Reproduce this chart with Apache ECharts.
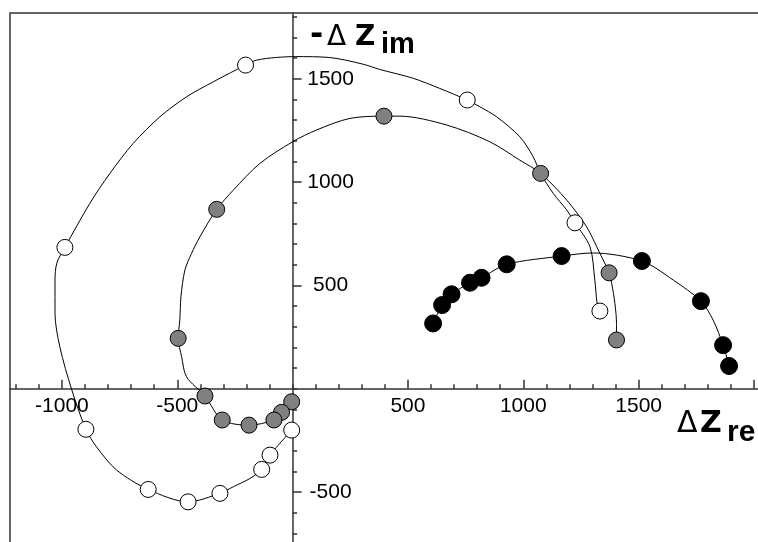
<!DOCTYPE html>
<html><head><meta charset="utf-8">
<script src="https://cdn.jsdelivr.net/npm/echarts@6/dist/echarts.min.js"></script>
<style>html,body{margin:0;padding:0;background:#fff}#c{width:758px;height:542px}</style>
</head><body><div id="c"></div>
<script>
// Markers (ΔZre, -ΔZim)
const openMarkers = [[-4,-200],[-98,-321],[-134,-390],[-315,-506],[-453,-547],[-626,-487],[-896,-196],[-987,684],[-204,1566],[757,1397],[1224,803],[1332,376]];
const grayMarkers = [[-4,-63],[-48,-114],[-81,-151],[-189,-176],[-305,-151],[-380,-35],[-496,244],[-329,868],[396,1319],[1075,1042],[1372,561],[1404,236]];
const blackMarkers = [[609,316],[648,405],[689,457],[769,513],[819,537],[928,602],[1166,642],[1514,618],[1770,424],[1866,211],[1892,110]];

// Fitted curves
const openCurve = [[-4,-200],[-98,-321],[-134,-390],[-185,-434],[-257,-474],[-315,-506],[-453,-547],[-626,-487],[-763,-393],[-850,-281],[-896,-196],[-957,-6],[-1009,203],[-1030,366],[-1030,526],[-1022,608],[-987,684],[-879,897],[-792,1042],[-691,1187],[-575,1316],[-459,1413],[-344,1485],[-204,1566],[-156,1590],[-69,1603],[14,1607],[157,1603],[303,1571],[378,1545],[523,1502],[638,1453],[757,1397],[812,1364],[884,1316],[985,1219],[1043,1122],[1075,1042],[1130,945],[1188,865],[1224,803],[1289,687],[1310,526],[1320,413],[1332,376]];
const grayCurve = [[-4,-63],[-48,-114],[-81,-151],[-189,-176],[-305,-151],[-380,-35],[-460,58],[-481,155],[-496,244],[-489,332],[-484,445],[-467,574],[-438,655],[-402,735],[-329,868],[-257,961],[-142,1090],[0,1195],[104,1252],[248,1308],[396,1319],[465,1319],[668,1276],[855,1195],[985,1106],[1075,1042],[1188,913],[1274,784],[1332,655],[1372,561],[1383,510],[1397,413],[1404,316],[1404,236]];
const blackCurve = [[609,316],[648,405],[689,457],[769,513],[819,537],[928,602],[1166,642],[1300,657],[1514,618],[1650,526],[1770,424],[1823,332],[1866,211],[1892,110]];

// Ticks and labels
const xMinorTicks = [-1200,-1100,-1000,-900,-800,-700,-600,-500,-400,-300,-200,-100,0,100,200,300,400,500,600,700,800,900,1000,1100,1200,1300,1400,1500,1600,1700,1800,1900,2000];
const xMajorTicks = [-1000,-500,500,1000,1500,2000];
const xTickLabels = [-1000,-500,500,1000,1500];
const yMinorTicks = [-700,-600,-500,-400,-300,-200,-100,0,100,200,300,400,500,600,700,800,900,1000,1100,1200,1300,1400,1500,1600,1700,1800];
const yMajorTicks = [-500,500,1000,1500];
const yTickLabels = [-500,500,1000,1500];

const X_MIN = -1225, X_MAX = 2026, Y_MIN = -751, Y_MAX = 1818;
const FONT = '"Liberation Sans", Arial, sans-serif';
const DJ = '"DejaVu Sans", sans-serif';
const AX = '#333';

const W = 758, H = 542;
const G = {left: 10, top: 13, right: -2, bottom: -2};
const GW = W - G.left - G.right, GH = H - G.top - G.bottom;
// pixel position of the zero lines, used to place the major-tick axes on them
const X0 = G.left + (0 - X_MIN) / (X_MAX - X_MIN) * GW;
const Y0 = G.top + (Y_MAX - 0) / (Y_MAX - Y_MIN) * GH;

const chart = echarts.init(document.getElementById('c'), null, {renderer: 'canvas'});

function xAx(major) {
  return {
    type: 'value', gridIndex: major ? 1 : 0, min: X_MIN, max: X_MAX, position: 'bottom',
    offset: major ? (Y0 - (G.top + GH)) : 0,
    axisLine: {show: !major, onZero: !major, lineStyle: {color: AX, width: 1.5}},
    axisTick: {show: true, inside: true, length: major ? 9 : 4.5, customValues: major ? xMajorTicks : xMinorTicks, lineStyle: {color: AX, width: 1.5}},
    axisLabel: major ? {show: true, hideOverlap: false, customValues: xTickLabels, formatter: v => String(v), fontSize: 21, fontFamily: FONT, color: '#000', margin: 7} : {show: false},
    splitLine: {show: false}
  };
}
function yAx(major) {
  return {
    type: 'value', gridIndex: major ? 1 : 0, min: Y_MIN, max: Y_MAX, position: 'left',
    offset: major ? (G.left - X0) : 0,
    axisLine: {show: !major, onZero: !major, lineStyle: {color: AX, width: 1.5}},
    axisTick: {show: true, inside: true, length: major ? 9 : 4.5, customValues: major ? yMajorTicks : yMinorTicks, lineStyle: {color: AX, width: 1.5}},
    axisLabel: major ? {show: true, hideOverlap: false, inside: true, align: 'center', customValues: yTickLabels, formatter: v => String(v), fontSize: 21, fontFamily: FONT, color: '#000', margin: 38} : {show: false},
    splitLine: {show: false}
  };
}

function lineSeries(data) {
  return {type: 'line', data: data, xAxisIndex: 0, yAxisIndex: 0, smooth: 0.3, showSymbol: false, symbol: 'none',
    lineStyle: {color: '#000', width: 1}, z: 2, silent: true, animation: false};
}
function markerSeries(data, fill, size) {
  return {type: 'scatter', data: data, xAxisIndex: 0, yAxisIndex: 0, symbol: 'circle', symbolSize: size,
    itemStyle: {color: fill, borderColor: '#000', borderWidth: 1, opacity: 1}, z: 3, silent: true, animation: false};
}

function txt(s, x, baseline, size, weight, family) {
  return {type: 'text', x: x, y: baseline - 0.8465 * size, z: 10,
    style: {text: s, fill: '#000', font: weight + ' ' + size + 'px ' + family, verticalAlign: 'top', align: 'left'}};
}

const gridBox = Object.assign({outerBoundsMode: 'none', containLabel: false}, G);

chart.setOption({
  animation: false,
  backgroundColor: '#fff',
  grid: [
    Object.assign({show: true, borderColor: AX, borderWidth: 1.5, backgroundColor: 'transparent'}, gridBox),
    Object.assign({show: false}, gridBox)
  ],
  xAxis: [xAx(false), xAx(true)],
  yAxis: [yAx(false), yAx(true)],
  series: [
    lineSeries(openCurve), lineSeries(grayCurve), lineSeries(blackCurve),
    markerSeries(openMarkers, '#ffffff', 16), markerSeries(grayMarkers, '#808080', 16), markerSeries(blackMarkers, '#000000', 17)
  ],
  graphic: [
    txt('-', 310, 47, 32, 'bold', DJ),
    txt('Δ', 327, 47, 28, 'normal', DJ),
    txt('Z', 355, 47, 28, 'bold', DJ),
    txt('im', 381, 55, 29, 'bold', FONT),
    txt('Δ', 677, 435, 30, 'normal', DJ),
    txt('Z', 700, 435, 30, 'bold', DJ),
    txt('re', 727, 443, 30, 'bold', FONT)
  ]
});
</script>
</body></html>
